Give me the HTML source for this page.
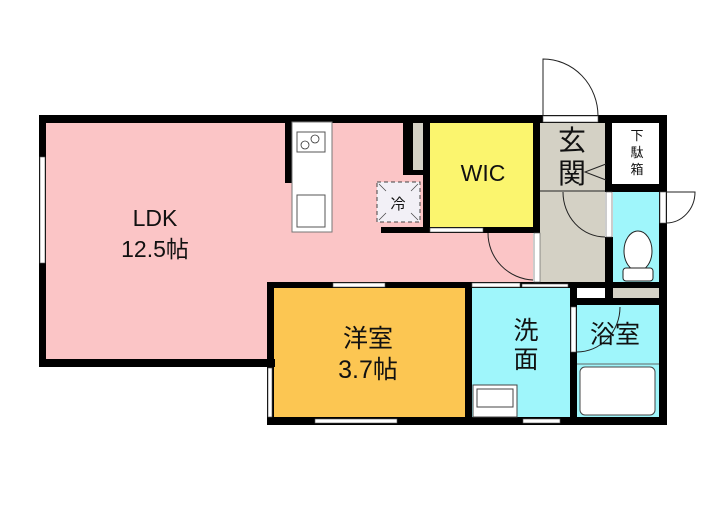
<!DOCTYPE html>
<html><head><meta charset="utf-8"><style>
html,body{margin:0;padding:0;background:#fff}
svg{display:block}
text{font-family:"Liberation Sans","Noto Sans CJK JP",sans-serif;fill:#111}
</style></head><body>
<svg width="720" height="512" viewBox="0 0 720 512" xmlns="http://www.w3.org/2000/svg">
<polygon points="46,123 533,123 533,282 273,282 273,359 46,359" fill="#fbc5c6"/>
<rect x="430" y="122" width="103" height="105" fill="#fbf56e"/>
<rect x="540" y="122" width="65" height="160" fill="#d4d1c5"/>
<rect x="612" y="122" width="46" height="62" fill="#fff"/>
<rect x="613" y="192" width="46" height="90" fill="#9ff6fb"/>
<rect x="273" y="288" width="192" height="129" fill="#fcc652"/>
<rect x="472" y="288" width="98" height="129" fill="#9ff6fb"/>
<rect x="577" y="305" width="82" height="112" fill="#9ff6fb"/>
<rect x="613" y="288" width="46" height="10" fill="#d4d1c5"/>
<g fill="#000">
<rect x="39" y="115" width="628" height="8"/>
<rect x="39" y="115" width="7" height="252"/>
<rect x="39" y="359" width="236" height="8"/>
<rect x="267" y="282" width="7" height="143"/>
<rect x="267" y="282" width="305" height="6"/>
<rect x="267" y="417" width="400" height="8"/>
<rect x="659" y="115" width="8" height="310"/>
<rect x="285" y="122" width="7" height="61"/>
<rect x="403" y="122" width="27" height="53"/>
<rect x="423" y="122" width="7" height="111"/>
<rect x="381" y="227" width="159" height="6"/>
<rect x="533" y="115" width="7" height="118"/>
<rect x="605" y="122" width="7" height="70"/>
<rect x="605" y="184" width="62" height="8"/>
<rect x="605" y="237" width="8" height="68"/>
<rect x="570" y="282" width="97" height="6"/>
<rect x="570" y="298" width="97" height="7"/>
<rect x="570" y="288" width="7" height="137"/>
<rect x="465" y="288" width="7" height="137"/>
</g>
<g fill="#fff" stroke="#555" stroke-width="0.6">
<rect x="40" y="157" width="5" height="106"/>
<rect x="543" y="116" width="55" height="6"/>
<rect x="430" y="228" width="53" height="4"/>
<rect x="534" y="233" width="6" height="49"/>
<rect x="606" y="192" width="6" height="45"/>
<rect x="660" y="192" width="6" height="31"/>
<rect x="333" y="283" width="52" height="4"/>
<rect x="315" y="419" width="82" height="4"/>
<rect x="268" y="368" width="4" height="49"/>
<rect x="472" y="283" width="48" height="4"/>
<rect x="522" y="284" width="46" height="3"/>
<rect x="523" y="419" width="37" height="4"/>
<rect x="571" y="307" width="5" height="45"/>
<rect x="577" y="288" width="28" height="10" stroke="none"/>
</g>
<rect x="413" y="123" width="10" height="47" fill="#d4d1c5"/>
<rect x="292" y="122" width="40" height="110" fill="#fff" stroke="#777" stroke-width="1"/>
<rect x="297" y="132" width="28" height="20" fill="#fff" stroke="#555"/>
<circle cx="305" cy="145" r="4" fill="none" stroke="#333" stroke-width="0.8"/>
<circle cx="315" cy="139" r="4" fill="none" stroke="#333" stroke-width="0.8"/>
<rect x="297" y="195" width="28" height="32" fill="#fff" stroke="#555"/>
<rect x="377" y="182" width="43" height="40" fill="#f2f0f6" stroke="#444" stroke-dasharray="4,3"/>
<line x1="379" y1="184" x2="386" y2="191" stroke="#444" stroke-width="0.7"/>
<line x1="418" y1="184" x2="411" y2="191" stroke="#444" stroke-width="0.7"/>
<line x1="379" y1="220" x2="386" y2="213" stroke="#444" stroke-width="0.7"/>
<line x1="418" y1="220" x2="411" y2="213" stroke="#444" stroke-width="0.7"/>
<text x="398" y="209" font-size="15" text-anchor="middle">冷</text>
<g fill="none" stroke="#222" stroke-width="1">
<path d="M543,116 L543,59 A55,57 0 0 1 598,116"/>
<path d="M488,233 A47,47 0 0 0 533,280"/>
<path d="M563,192 A42,45 0 0 0 605,237"/>
<line x1="540" y1="191" x2="605" y2="191"/>
<path d="M606,164 L585,172 L606,180"/>
<path d="M666,192 L695,192 A29,31 0 0 1 666,223"/>
<path d="M577,352 A43,45 0 0 0 620,307"/>
</g>
<ellipse cx="638" cy="251" rx="14" ry="20" fill="#fff" stroke="#222"/>
<rect x="623" y="268" width="30" height="13" rx="3" fill="#fff" stroke="#222"/>
<line x1="577" y1="364" x2="659" y2="364" stroke="#666"/>
<rect x="580" y="367" width="75" height="48" rx="5" fill="#fff" stroke="#444"/>
<rect x="473" y="385" width="44" height="32" fill="#fff" stroke="#444"/>
<rect x="477" y="389" width="36" height="18" fill="#fff" stroke="#444"/>
<text x="155" y="226" font-size="23" text-anchor="middle">LDK</text>
<text x="155" y="257" font-size="23" text-anchor="middle">12.5帖</text>
<text x="483" y="181" font-size="23" text-anchor="middle">WIC</text>
<text x="572" y="150" font-size="28" text-anchor="middle">玄</text>
<text x="572" y="183" font-size="28" text-anchor="middle">関</text>
<text x="637" y="140" font-size="13" text-anchor="middle">下</text>
<text x="637" y="157" font-size="13" text-anchor="middle">駄</text>
<text x="637" y="174" font-size="13" text-anchor="middle">箱</text>
<text x="368" y="347" font-size="25" text-anchor="middle">洋室</text>
<text x="368" y="378" font-size="25" text-anchor="middle">3.7帖</text>
<text x="526" y="339" font-size="25" text-anchor="middle">洗</text>
<text x="526" y="368" font-size="25" text-anchor="middle">面</text>
<text x="615" y="343" font-size="25" text-anchor="middle">浴室</text>
</svg>
</body></html>
